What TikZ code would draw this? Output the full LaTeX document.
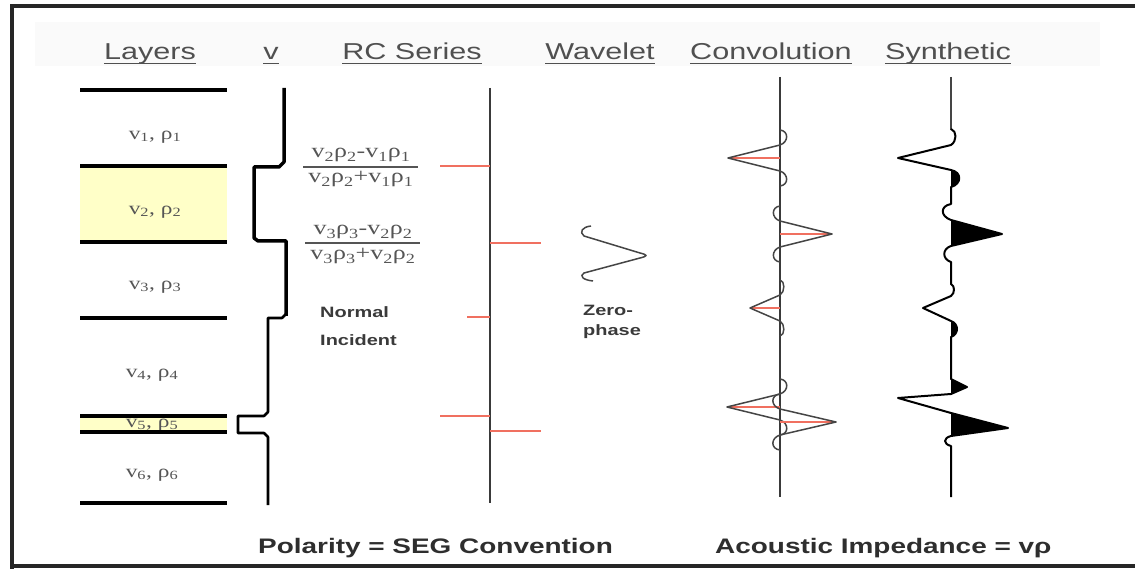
\documentclass[tikz,border=0pt]{standalone}
\usepackage{fontspec}
\setmainfont{Liberation Sans}[FakeStretch=1.33]
\newfontfamily\serifx{Liberation Serif}[FakeStretch=1.3]
\definecolor{hdrgray}{HTML}{505050}
\definecolor{labgray}{HTML}{555555}
\definecolor{txtdark}{HTML}{2E2E2E}
\definecolor{redl}{RGB}{240,112,96}
\definecolor{yel}{RGB}{255,255,200}
\definecolor{axc}{HTML}{3A3A3A}
\definecolor{wigc}{HTML}{454545}
\newcommand\drawwig[3]{%
  \draw[redline] (#1,#2) -- ({#1+(#3)},#2);
  \draw[wig] (#1,#2-28) .. controls ({#1-0.17*(#3)},#2-27) and ({#1-0.17*(#3)},#2-16) .. (#1,#2-13)
    -- ({#1+(#3)},#2) -- (#1,#2+13)
    .. controls ({#1-0.17*(#3)},#2+16) and ({#1-0.17*(#3)},#2+27) .. (#1,#2+28);}
\begin{document}
\begin{tikzpicture}[x=1pt,y=-1pt,
  hdr/.style={font=\fontsize{23}{26}\selectfont, text=hdrgray, anchor=base, inner sep=0pt},
  ul/.style={line width=1.3pt, hdrgray},
  lay/.style={font=\serifx\fontsize{18}{20}\selectfont, text=labgray, inner sep=0pt},
  frc/.style={font=\serifx\fontsize{20}{22}\selectfont, text=labgray, inner sep=0pt, anchor=base},
  note/.style={font=\bfseries\fontsize{15}{17}\selectfont, text=axc, inner sep=0pt, anchor=base west},
  bot/.style={font=\bfseries\fontsize{21}{24}\selectfont, text=txtdark, inner sep=0pt, anchor=base west},
  layline/.style={line width=4pt, black},
  redline/.style={line width=2pt, redl},
  wig/.style={line width=1.5pt, wigc, line join=round},
  syn/.style={line width=2pt, black, line join=round}]
\useasboundingbox (0,0) rectangle (1135,569);
\fill[white] (0,0) rectangle (1135,569);
% header band
\fill[gray!4] (35,22) rectangle (1100,66);
% frame
\draw[line width=4.5pt, black!85] (12,569) -- (12,6) -- (1135,6);
\draw[line width=4.5pt, black!85] (10,566) -- (1135,566);
% headers
\node[hdr] (hL) at (150,60) {Layers};
\node[hdr] (hV) at (271,60) {v};
\node[hdr] (hR) at (412,60) {RC Series};
\node[hdr] (hW) at (600,60) {Wavelet};
\node[hdr] (hC) at (771,60) {Convolution};
\node[hdr] (hS) at (948,60) {Synthetic};
\foreach \h in {hL,hV,hR,hW,hC,hS}
  \draw[ul] ([yshift=-3.5pt]\h.base west) -- ([yshift=-3.5pt]\h.base east);
% layers
\fill[yel] (80,166) rectangle (227,242);
\fill[yel] (80,416) rectangle (227,432);
\node[lay] (l1) at (155,137) {v\textsubscript{1}, ρ\textsubscript{1}};
\node[lay] (l2) at (155,212) {v\textsubscript{2}, ρ\textsubscript{2}};
\node[lay] (l3) at (155,287) {v\textsubscript{3}, ρ\textsubscript{3}};
\node[lay] (l4) at (152,375) {v\textsubscript{4}, ρ\textsubscript{4}};
\node[lay] (l5) at (152,425) {v\textsubscript{5}, ρ\textsubscript{5}};
\node[lay] (l6) at (152,475) {v\textsubscript{6}, ρ\textsubscript{6}};
\foreach \yy in {90,166,242,318,416,432,503}
  \draw[layline] (80,\yy) -- (227,\yy);
% velocity log
\draw[line width=3.5pt, line join=round] (284,88) -- (284,162) -- (279,167) -- (254,167) -- (254,238) -- (258,241) -- (286,241) -- (286,316);
\draw[line width=2.6pt, line join=round] (286,314) -- (282,318) -- (268,318) -- (268,412) -- (264,416) -- (238,416) -- (238,433) -- (264,433) -- (268,437) -- (268,505);
% fractions
\node[frc] (f1n) at (361,158) {v\textsubscript{2}ρ\textsubscript{2}-v\textsubscript{1}ρ\textsubscript{1}};
\node[frc] (f1d) at (361,183) {v\textsubscript{2}ρ\textsubscript{2}+v\textsubscript{1}ρ\textsubscript{1}};
\draw[line width=1.5pt, labgray] (303,167) -- (418,167);
\node[frc] (f2n) at (363,235) {v\textsubscript{3}ρ\textsubscript{3}-v\textsubscript{2}ρ\textsubscript{2}};
\node[frc] (f2d) at (363,260) {v\textsubscript{3}ρ\textsubscript{3}+v\textsubscript{2}ρ\textsubscript{2}};
\draw[line width=1.5pt, labgray] (305,243) -- (420,243);
\node[note] (n1) at (320,318) {Normal};
\node[note] (n2) at (320,345) {Incident};
% RC series
\draw[line width=2.5pt, axc] (490,88) -- (490,503);
\draw[redline] (440,166) -- (490,166);
\draw[redline] (490,243) -- (541,243);
\draw[redline] (467,317) -- (490,317);
\draw[redline] (440,416) -- (490,416);
\draw[redline] (490,431) -- (541,431);
% wavelet
\draw[wig] (591,226) .. controls (582,227) and (579,232) .. (584,236) -- (640,253) .. controls (648,255) and (648,256) .. (640,258) -- (584,273) .. controls (579,276) and (583,280) .. (593,281);
\node[note] (z1) at (583,316) {Zero-};
\node[note] (z2) at (583,335) {phase};
% convolution
\draw[line width=2.5pt, axc] (780,77) -- (780,497);
\drawwig{780}{158}{-52}
\drawwig{780}{234}{52}
\drawwig{780}{308}{-30}
\drawwig{780}{407}{-53}
\drawwig{780}{422}{56}
% synthetic
\fill[black] (951,170) .. controls (962,172) and (962,184) .. (951,187) -- cycle;
\fill[black] (951,220) -- (1002,234) -- (951,246) -- cycle;
\fill[black] (951,321) .. controls (959,324) and (959,334) .. (951,337) -- cycle;
\fill[black] (951,379) -- (967,387) -- (951,394) -- cycle;
\fill[black] (951,413) -- (1008,428) -- (951,436) -- cycle;
\draw[line width=1.6pt, wigc] (951,77) -- (951,130);
\draw[syn] (951,129) .. controls (957,131) and (957,141) .. (951,145) -- (898,158) -- (951,170)
  .. controls (962,172) and (962,184) .. (951,187) -- (951,204) .. controls (940,206) and (940,216) .. (951,220)
  -- (1002,234) -- (951,246) .. controls (942,249) and (942,259) .. (951,262) -- (951,284)
  .. controls (955,286) and (955,293) .. (951,296) -- (923,308) -- (951,321)
  .. controls (959,324) and (959,334) .. (951,337) -- (951,379) -- (967,387) -- (951,394) -- (898,398)
  -- (951,413) -- (1008,428) -- (951,436) .. controls (943,438) and (943,444) .. (951,446) -- (951,497);
% bottom captions
\node[bot] (b1) at (258,553) {Polarity = SEG Convention};
\node[bot] (b2) at (715,553) {Acoustic Impedance = vρ};
\end{tikzpicture}
\end{document}
